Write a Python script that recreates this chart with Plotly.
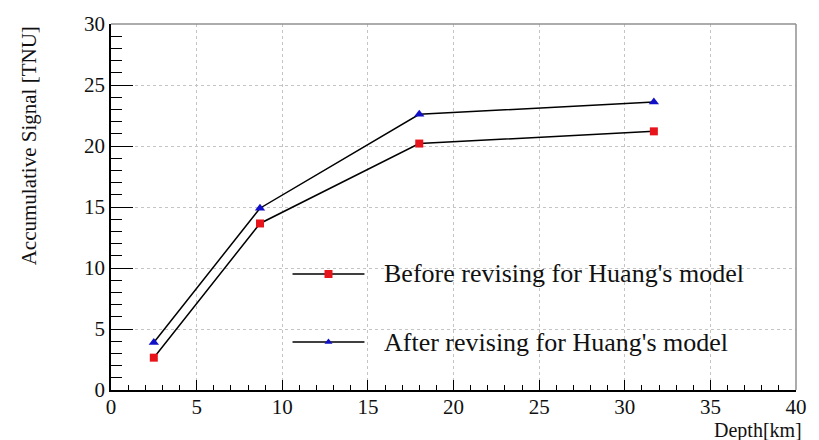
import plotly.graph_objects as go

# Depth (km) and accumulated signal (TNU)
depth = [2.5, 8.7, 18.0, 31.7]
signal_before = [2.65, 13.65, 20.2, 21.2]
signal_after = [3.9, 14.9, 22.6, 23.6]

label_before = "Before revising for Huang's model"
label_after = "After revising for Huang's model"

FONT = "Liberation Serif"

fig = go.Figure()

fig.add_trace(go.Scatter(
    x=depth, y=signal_before, mode="lines+markers", name=label_before,
    line=dict(color="black", width=1.5),
    marker=dict(symbol="square", color="#e8141c", size=8),
    showlegend=False,
))
fig.add_trace(go.Scatter(
    x=depth, y=signal_after, mode="lines+markers", name=label_after,
    line=dict(color="black", width=1.5),
    marker=dict(symbol="triangle-up", color="#1010c8", size=9),
    showlegend=False,
))

# Legend samples drawn on an overlay axis spanning the plot area (0..1)
legend_rows = [
    (label_before, 0.317, "square", "#e8141c", 8),
    (label_after, 0.131, "triangle-up", "#1010c8", 7),
]
for text, ly, sym, col, sz in legend_rows:
    fig.add_trace(go.Scatter(
        x=[0.265, 0.3175, 0.370], y=[ly, ly, ly], mode="lines",
        line=dict(color="black", width=1.5),
        xaxis="x2", yaxis="y2", showlegend=False, hoverinfo="skip",
    ))
    fig.add_trace(go.Scatter(
        x=[0.3175], y=[ly], mode="markers",
        marker=dict(symbol=sym, color=col, size=sz),
        xaxis="x2", yaxis="y2", showlegend=False, hoverinfo="skip",
    ))
    fig.add_annotation(
        x=0.395, y=ly, xref="x2", yref="y2", text=text, showarrow=False,
        xanchor="left", yanchor="middle",
        font=dict(family=FONT, size=26, color="#111"),
    )

axis_common = dict(
    showline=True, linecolor="black", linewidth=1.5,
    ticks="inside", tickcolor="black", tickwidth=1.2,
    showgrid=True, gridcolor="#c4c4c4", griddash="dot", gridwidth=1,
    zeroline=False,
    tickfont=dict(family=FONT, size=21, color="#111"),
)

fig.update_layout(
    width=819, height=440,
    margin=dict(l=111, r=14, t=15, b=50),
    paper_bgcolor="white", plot_bgcolor="white",
    xaxis=dict(
        range=[0, 40], dtick=5, ticklen=10, ticklabelstandoff=-3,
        minor=dict(ticks="inside", dtick=1, ticklen=5, tickcolor="black", showgrid=False),
        **axis_common,
    ),
    yaxis=dict(
        range=[0, 30], dtick=5, ticklen=22,
        minor=dict(ticks="inside", dtick=1, ticklen=11, tickcolor="black", showgrid=False),
        **axis_common,
    ),
    xaxis2=dict(range=[0, 1], overlaying="x", visible=False, fixedrange=True),
    yaxis2=dict(range=[0, 1], overlaying="y", visible=False, fixedrange=True),
)

# Grey frame on top and right
fig.add_shape(type="line", xref="paper", yref="paper", x0=0, x1=1, y0=1, y1=1,
              line=dict(color="#909090", width=1.5))
fig.add_shape(type="line", xref="paper", yref="paper", x0=1, x1=1, y0=0, y1=1,
              line=dict(color="#909090", width=1.5))

# Axis titles, right/top aligned
fig.add_annotation(
    x=1.012, y=-0.11, xref="paper", yref="paper", text="Depth[km]", showarrow=False,
    xanchor="right", yanchor="middle",
    font=dict(family=FONT, size=20, color="#111"),
)
fig.add_annotation(
    x=-0.12, y=1, xref="paper", yref="paper", text="Accumulative Signal [TNU]",
    showarrow=False, textangle=-90, xanchor="center", yanchor="top",
    font=dict(family=FONT, size=21, color="#111"),
)

fig.write_html("out.html")
